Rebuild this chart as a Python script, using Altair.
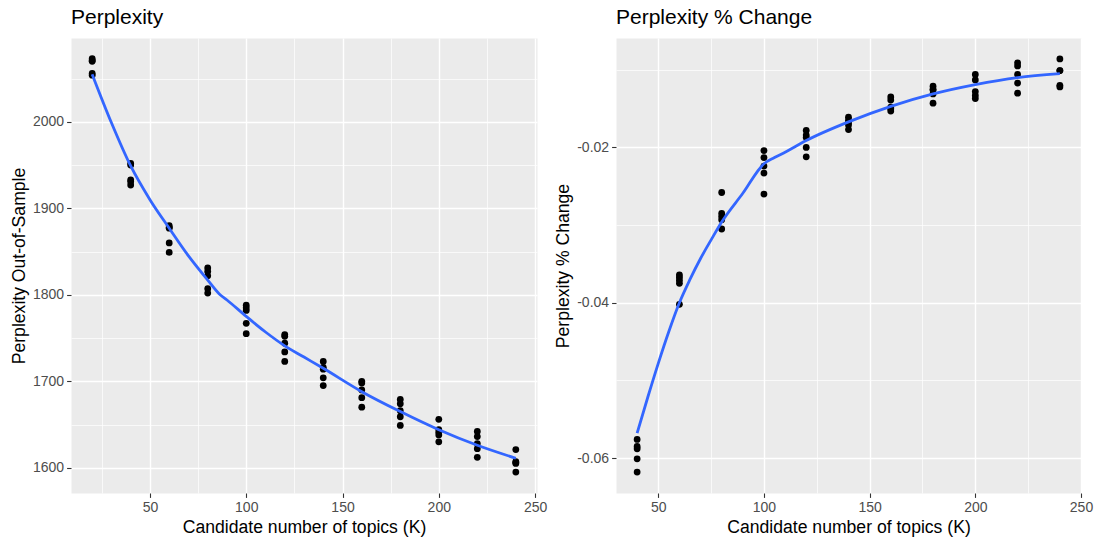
import altair as alt
import pandas as pd

# ---- data -------------------------------------------------------------
# Held-out perplexity for each candidate K (five runs per K)
k_left = [20, 40, 60, 80, 100, 120, 140, 160, 180, 200, 220, 240]
perplexity_runs = [
    [2073, 2071, 2070, 2056, 2054],
    [1952, 1950, 1933, 1931, 1927],
    [1880, 1878, 1877, 1860, 1849],
    [1831, 1827, 1822, 1807, 1802],
    [1788, 1785, 1782, 1767, 1755],
    [1754, 1752, 1744, 1734, 1723],
    [1723, 1716, 1714, 1704, 1695],
    [1700, 1698, 1690, 1681, 1670],
    [1679, 1674, 1666, 1659, 1649],
    [1656, 1644, 1641, 1638, 1630],
    [1642, 1636, 1628, 1622, 1612],
    [1621, 1607, 1606, 1605, 1595],
]

# Smoothed trend of perplexity
smooth_k_left = [20, 30, 40, 50, 60, 70, 80, 86, 90, 100, 110, 120, 130, 140,
                 160, 180, 200, 220, 240]
smooth_perplexity = [2055, 1999, 1949, 1910, 1877, 1845, 1817, 1801, 1794, 1775,
                     1757, 1741, 1728, 1715, 1688, 1665, 1644, 1626, 1611]

# Relative change in perplexity versus the previous K
k_right = [40, 60, 80, 100, 120, 140, 160, 180, 200, 220, 240]
pct_change_runs = [
    [-0.0576, -0.0585, -0.0588, -0.0601, -0.0618],
    [-0.0364, -0.0367, -0.0371, -0.0375, -0.0402],
    [-0.0258, -0.0285, -0.0289, -0.0293, -0.0305],
    [-0.0204, -0.0213, -0.0224, -0.0233, -0.0260],
    [-0.0178, -0.0184, -0.0187, -0.0200, -0.0212],
    [-0.0161, -0.0165, -0.0168, -0.0171, -0.0177],
    [-0.0135, -0.0139, -0.0148, -0.0150, -0.0153],
    [-0.0121, -0.0125, -0.0126, -0.0131, -0.0143],
    [-0.0106, -0.0113, -0.0128, -0.0133, -0.0137],
    [-0.0091, -0.0095, -0.0106, -0.0117, -0.0130],
    [-0.0086, -0.0101, -0.0101, -0.0120, -0.0122],
]

# Smoothed trend of the relative change
smooth_k_right = [40, 45, 50, 55, 60, 65, 70, 75, 80, 90, 100, 105, 110, 120,
                  140, 160, 180, 200, 220, 240]
smooth_pct_change = [-0.0568, -0.0522, -0.0478, -0.0437, -0.0400, -0.0370,
                     -0.0343, -0.0319, -0.0296, -0.0259, -0.0221, -0.0213,
                     -0.0206, -0.0191, -0.0167, -0.0147, -0.0131, -0.0119,
                     -0.0110, -0.0105]

# ---- tables -----------------------------------------------------------
left_points = pd.DataFrame(
    [{"K": k, "value": v} for k, runs in zip(k_left, perplexity_runs) for v in runs]
)
left_curve = pd.DataFrame({"K": smooth_k_left, "value": smooth_perplexity})
right_points = pd.DataFrame(
    [{"K": k, "value": v} for k, runs in zip(k_right, pct_change_runs) for v in runs]
)
right_curve = pd.DataFrame({"K": smooth_k_right, "value": smooth_pct_change})

# ---- styling helpers --------------------------------------------------
FONT = "Liberation Sans"
X_TITLE = "Candidate number of topics (K)"


def gg_axis(title, values, major_test, label_expr):
    return alt.Axis(
        title=title,
        values=values,
        labelExpr=f"{major_test} ? {label_expr} : ''",
        labelOverlap=False,
        labelFlush=False,
        labelFont=FONT,
        labelFontSize=14,
        labelColor="#4D4D4D",
        labelPadding=3,
        titleFont=FONT,
        titleFontSize=17.6,
        titleFontWeight="normal",
        titleColor="black",
        titlePadding=4,
        domain=False,
        ticks=True,
        tickColor="#333333",
        tickSize=4.4,
        tickWidth=1.1,
        tickOpacity={"condition": {"test": major_test, "value": 1}, "value": 0},
        grid=True,
        gridColor="white",
        gridOpacity=1,
        gridWidth={"condition": {"test": major_test, "value": 1.4}, "value": 0.7},
    )


def panel(points, curve, title, y_title, x_dom, y_dom, x_vals, y_vals,
          x_test, y_test, y_label, width):
    x = alt.X(
        "K:Q",
        scale=alt.Scale(domain=x_dom, nice=False, zero=False),
        axis=gg_axis(X_TITLE, x_vals, x_test, "datum.label"),
    )
    y = alt.Y(
        "value:Q",
        scale=alt.Scale(domain=y_dom, nice=False, zero=False),
        axis=gg_axis(y_title, y_vals, y_test, y_label),
    )
    dots = alt.Chart(points).mark_circle(size=46, color="black", opacity=1).encode(x=x, y=y)
    trend = alt.Chart(curve).mark_line(
        color="#3366FF", strokeWidth=2.8, interpolate="monotone"
    ).encode(x=x, y=y)
    return alt.layer(dots, trend).properties(
        width=width,
        height=455,
        title=alt.TitleParams(
            title, anchor="start", frame="group", font=FONT, fontSize=21,
            fontWeight="normal", color="black", baseline="alphabetic", offset=-6.5,
        ),
    )


left = panel(
    left_points, left_curve, "Perplexity", "Perplexity Out-of-Sample",
    [9, 251], [1570.8, 2097.0],
    list(range(25, 251, 25)), list(range(1600, 2051, 50)),
    "datum.value % 50 === 0", "datum.value % 100 === 0",
    "format(datum.value, 'd')", 466,
)

right = panel(
    right_points, right_curve, "Perplexity % Change", "Perplexity % Change",
    [30, 250], [-0.0645, -0.0059],
    list(range(50, 251, 25)), [-0.06, -0.05, -0.04, -0.03, -0.02, -0.01],
    "datum.value % 50 === 0", "abs(round(datum.value * 100)) % 2 === 0",
    "replace(format(datum.value, '.2f'), '\u2212', '-')", 465,
)

chart = (
    alt.hconcat(left, right, spacing=79, bounds="flush")
    .properties(
        padding={"left": 9, "top": 6, "right": 0, "bottom": 0},
        background="white",
    )
    .configure_view(fill="#EBEBEB", stroke="transparent")
)

chart.save("out.html", embed_options={"renderer": "svg", "actions": False})
